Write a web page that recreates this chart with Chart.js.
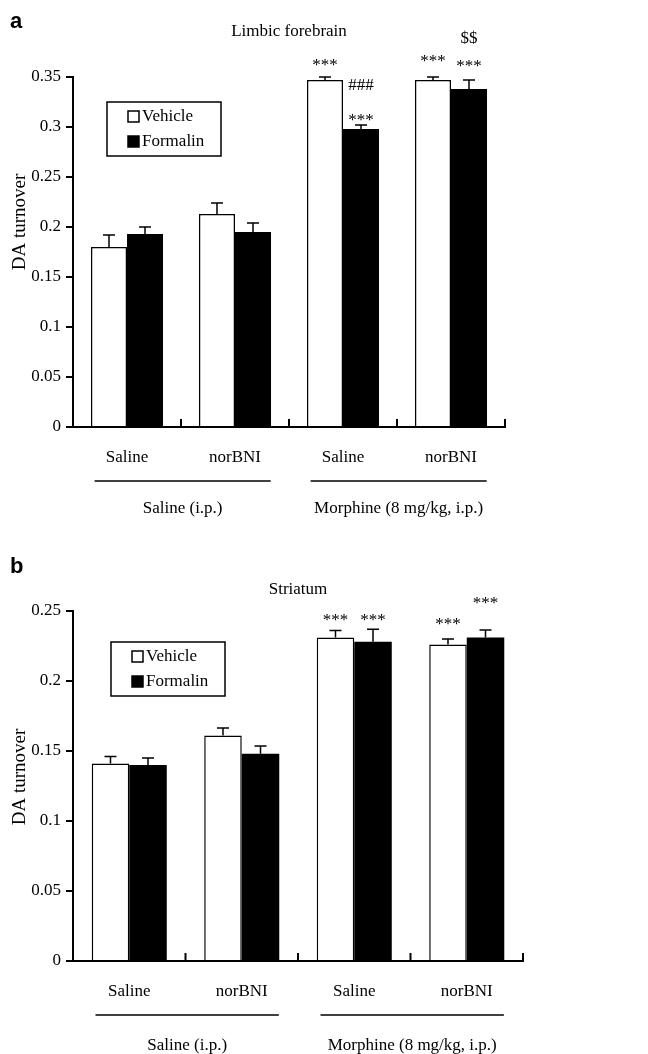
<!DOCTYPE html>
<html>
<head>
<meta charset="utf-8">
<script src="https://cdn.jsdelivr.net/npm/chart.js@4.4.1/dist/chart.umd.min.js"></script>
<style>
    body { margin: 0; background: #fff; }
    canvas { display: block; }
</style>
</head>
<body>
<canvas id="chartA" width="648" height="540"></canvas>
<canvas id="chartB" width="648" height="514"></canvas>
<script>
// ========================================
// Data
// ========================================
const categories = ['Saline', 'norBNI', 'Saline', 'norBNI'];
const groupLabels = ['Saline (i.p.)', 'Morphine (8 mg/kg, i.p.)'];
const seriesNames = ['Vehicle', 'Formalin'];
const yTitle = 'DA turnover';

// Panel a - Limbic forebrain
const limbicVehicle = [0.180, 0.213, 0.347, 0.347];
const limbicVehicleSem = [0.012, 0.011, 0.003, 0.003];
const limbicFormalin = [0.193, 0.195, 0.298, 0.338];
const limbicFormalinSem = [0.007, 0.009, 0.004, 0.009];
const limbicTicks = ['0', '0.05', '0.1', '0.15', '0.2', '0.25', '0.3', '0.35'];
// [category, series, text, level]
const limbicMarks = [
    [2, 0, '***', 0.365], [2, 1, '###', 0.341], [2, 1, '***', 0.310],
    [3, 0, '***', 0.369], [3, 1, '***', 0.364], [3, 1, '$$', 0.388]
];

// Panel b - Striatum
const striatumVehicle = [0.141, 0.161, 0.231, 0.226];
const striatumVehicleSem = [0.005, 0.0054, 0.005, 0.004];
const striatumFormalin = [0.140, 0.148, 0.228, 0.231];
const striatumFormalinSem = [0.005, 0.0056, 0.009, 0.0054];
const striatumTicks = ['0', '0.05', '0.1', '0.15', '0.2', '0.25'];
const striatumMarks = [
    [2, 0, '***', 0.2457], [2, 1, '***', 0.2457],
    [3, 0, '***', 0.2429], [3, 1, '***', 0.2579]
];

const SERIF = '"Liberation Serif", "Times New Roman", serif';

// ========================================
// Decorations: error bars, marks, legend, group labels
// ========================================
const panelDecor = {
    id: 'panelDecor',
    afterDatasetsDraw(chart) {
        const ctx = chart.ctx;
        const y = chart.scales.y;
        ctx.save();
        ctx.strokeStyle = '#000';
        ctx.lineWidth = 1.5;
        chart.data.datasets.forEach((ds, di) => {
            chart.getDatasetMeta(di).data.forEach((bar, j) => {
                const top = y.getPixelForValue(ds.data[j] + ds.sem[j]);
                ctx.beginPath();
                ctx.moveTo(bar.x, bar.y);
                ctx.lineTo(bar.x, top);
                ctx.moveTo(bar.x - 6, top);
                ctx.lineTo(bar.x + 6, top);
                ctx.stroke();
            });
        });
        ctx.restore();
    },
    afterDraw(chart, args, o) {
        const { ctx, chartArea: a, scales: { x, y } } = chart;
        const step = x.getPixelForValue(1) - x.getPixelForValue(0);
        ctx.save();
        ctx.strokeStyle = '#000';
        ctx.fillStyle = '#000';

        // upward ticks between categories
        ctx.lineWidth = 2;
        for (let i = 0; i < categories.length; i++) {
            const bx = x.getPixelForValue(i) + step / 2;
            ctx.beginPath();
            ctx.moveTo(bx, a.bottom);
            ctx.lineTo(bx, a.bottom - 8);
            ctx.stroke();
        }

        // panel letter
        ctx.font = 'bold 22px "Liberation Sans", Arial, sans-serif';
        ctx.textAlign = 'left';
        ctx.textBaseline = 'middle';
        ctx.fillText(o.letter, 10, o.letterY);

        // y axis title
        ctx.save();
        ctx.font = '19px ' + SERIF;
        ctx.textAlign = 'center';
        ctx.translate(20, o.yTitleY);
        ctx.rotate(-Math.PI / 2);
        ctx.fillText(yTitle, 0, 0);
        ctx.restore();

        // title
        ctx.font = '17px ' + SERIF;
        ctx.textAlign = 'center';
        ctx.fillText(o.title, (a.left + a.right) / 2, o.titleY);

        // significance marks
        o.marks.forEach(([c, s, t, v]) => {
            const bar = chart.getDatasetMeta(s).data[c];
            const dy = t === '***' ? 4 : 0;
            ctx.fillText(t, bar.x, y.getPixelForValue(v) + dy);
        });

        // group underlines and labels
        ctx.lineWidth = 1.5;
        groupLabels.forEach((g, k) => {
            const x0 = x.getPixelForValue(2 * k) - step * 0.3;
            const x1 = x.getPixelForValue(2 * k + 1) + step * 0.33;
            ctx.beginPath();
            ctx.moveTo(x0, a.bottom + 54);
            ctx.lineTo(x1, a.bottom + 54);
            ctx.stroke();
            ctx.fillText(g, (x0 + x1) / 2, a.bottom + o.groupGap);
        });

        // legend box
        const lx = a.left + o.legendX, ly = a.top + o.legendY;
        ctx.lineWidth = 1.5;
        ctx.strokeRect(lx, ly, 114, 54);
        ctx.textAlign = 'left';
        chart.data.datasets.forEach((ds, di) => {
            const cy = ly + 15 + di * 25;
            ctx.fillStyle = ds.backgroundColor;
            ctx.fillRect(lx + 21, cy - 6, 11, 11);
            ctx.strokeRect(lx + 21, cy - 6, 11, 11);
            ctx.fillStyle = '#000';
            ctx.fillText(ds.label, lx + 35, cy);
        });
        ctx.restore();
    }
};

function makePanel(id, cfg) {
    return new Chart(document.getElementById(id), {
        type: 'bar',
        data: {
            labels: categories,
            datasets: [{
                label: seriesNames[0],
                data: cfg.vehicle,
                sem: cfg.vehicleSem,
                backgroundColor: '#fff',
                borderColor: '#000',
                borderWidth: 1.5,
                categoryPercentage: 0.667,
                barPercentage: 1.0
            }, {
                label: seriesNames[1],
                data: cfg.formalin,
                sem: cfg.formalinSem,
                backgroundColor: '#000',
                borderColor: '#000',
                borderWidth: 0,
                categoryPercentage: 0.667,
                barPercentage: 1.0
            }]
        },
        options: {
            responsive: false,
            animation: false,
            layout: { padding: cfg.padding },
            plugins: {
                legend: { display: false },
                title: { display: false },
                tooltip: { enabled: false },
                panelDecor: cfg.decor
            },
            scales: {
                x: {
                    grid: { display: false, drawTicks: false },
                    border: { display: true, color: '#000', width: 2 },
                    ticks: { color: '#000', font: { family: SERIF, size: 17 }, padding: 20 },
                    afterFit(s) { s.height = 40; }
                },
                y: {
                    min: 0,
                    max: cfg.max,
                    ticks: {
                        stepSize: 0.05,
                        color: '#000',
                        font: { family: SERIF, size: 17 },
                        padding: 5,
                        callback: v => cfg.ticks[Math.round(v / 0.05)]
                    },
                    grid: { drawOnChartArea: false, drawTicks: true, tickLength: 7, color: '#000', lineWidth: 2 },
                    border: { color: '#000', width: 2 },
                    afterFit(s) { s.width = 73; }
                }
            }
        },
        plugins: [panelDecor]
    });
}

makePanel('chartA', {
    vehicle: limbicVehicle, vehicleSem: limbicVehicleSem,
    formalin: limbicFormalin, formalinSem: limbicFormalinSem,
    ticks: limbicTicks, max: 0.35,
    padding: { top: 77, right: 143, bottom: 73, left: 0 },
    decor: { letter: 'a', letterY: 22, title: 'Limbic forebrain', titleY: 32, yTitleY: 222, marks: limbicMarks, groupGap: 82, legendX: 34, legendY: 25 }
});

makePanel('chartB', {
    vehicle: striatumVehicle, vehicleSem: striatumVehicleSem,
    formalin: striatumFormalin, formalinSem: striatumFormalinSem,
    ticks: striatumTicks, max: 0.25,
    padding: { top: 71, right: 125, bottom: 53, left: 0 },
    decor: { letter: 'b', letterY: 27, title: 'Striatum', titleY: 50, yTitleY: 237, marks: striatumMarks, groupGap: 85, legendX: 38, legendY: 31 }
});
</script>
</body>
</html>
